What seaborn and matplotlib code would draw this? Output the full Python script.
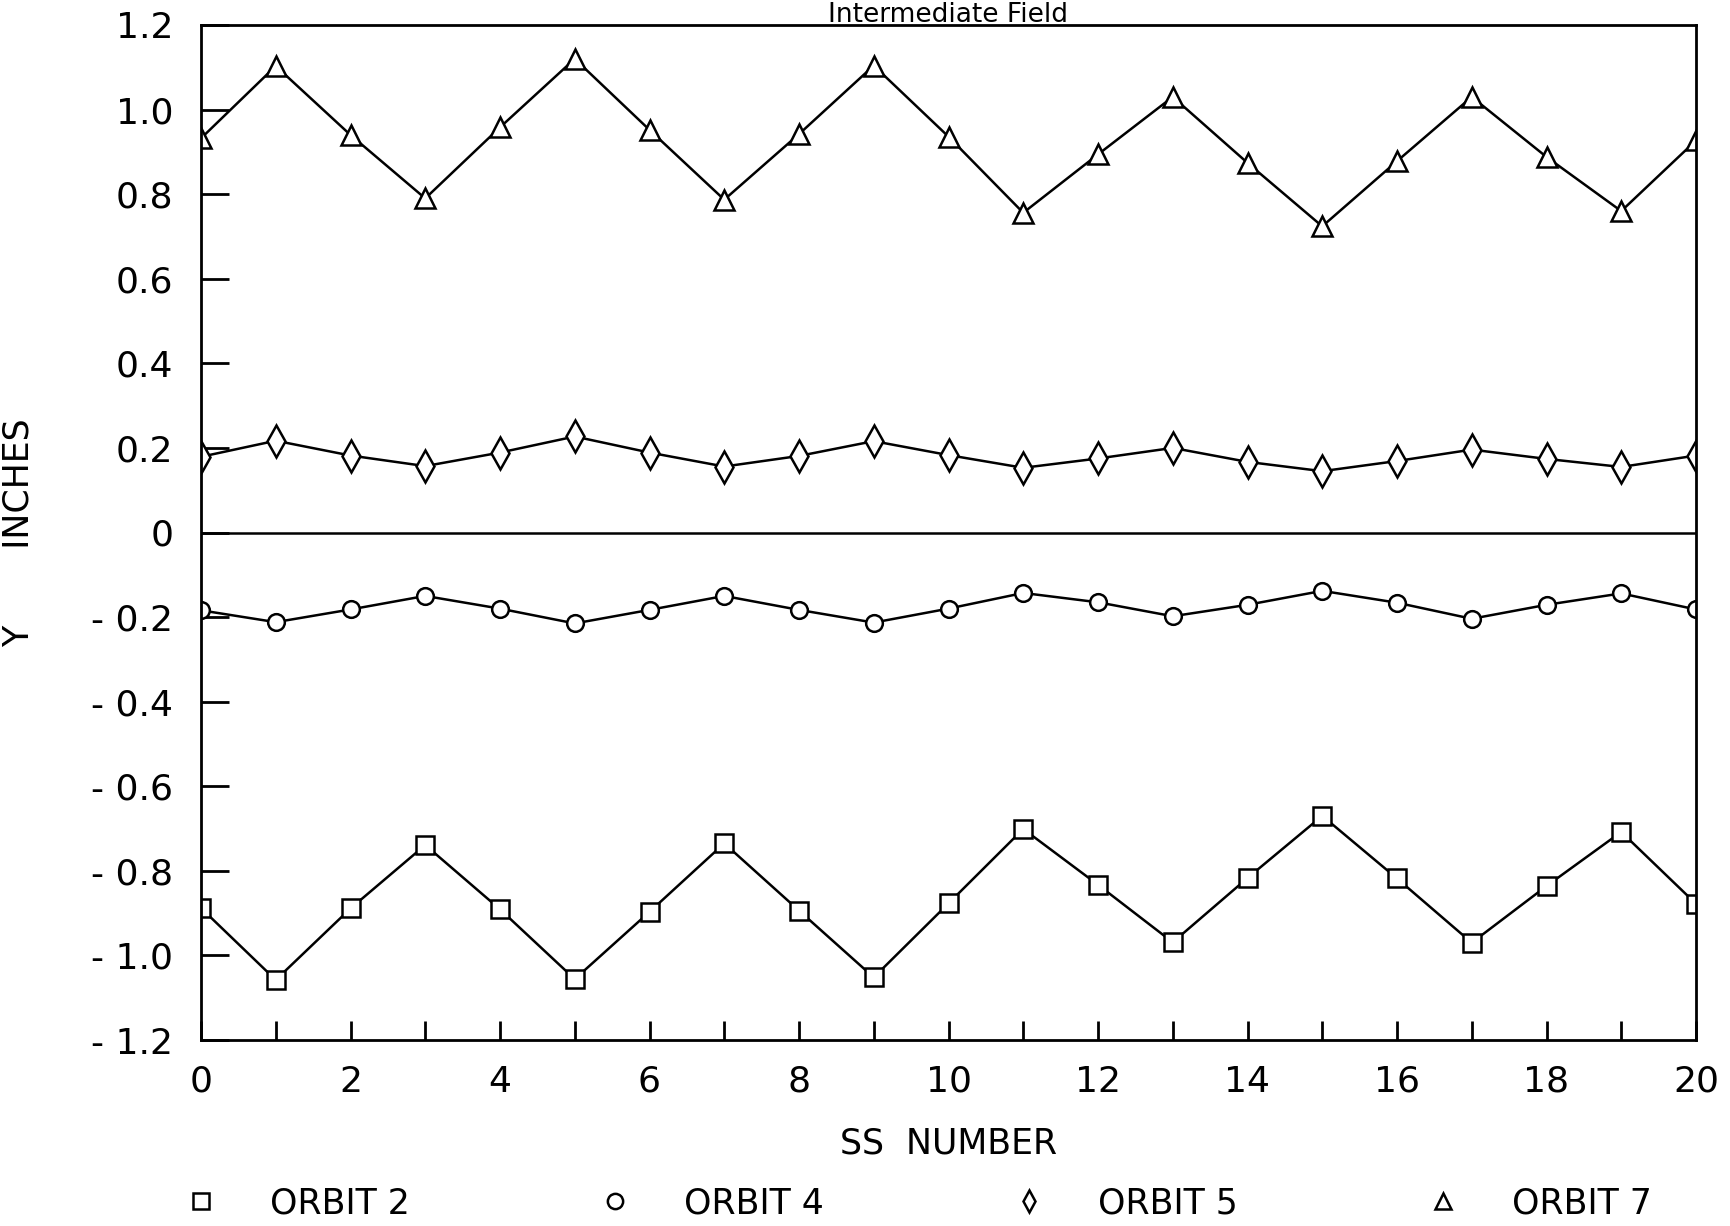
import matplotlib
matplotlib.use("Agg")
import matplotlib.pyplot as plt
import seaborn as sns
import numpy as np
import pandas as pd
from matplotlib.lines import Line2D

ss = list(range(21))
orbit2 = [-0.888, -1.058, -0.889, -0.739, -0.891, -1.056, -0.897, -0.735, -0.894, -1.052, -0.877,
          -0.701, -0.833, -0.969, -0.817, -0.670, -0.818, -0.970, -0.836, -0.708, -0.878]
orbit4 = [-0.184, -0.212, -0.182, -0.150, -0.180, -0.215, -0.183, -0.150, -0.183, -0.213, -0.180,
          -0.143, -0.165, -0.198, -0.171, -0.138, -0.166, -0.204, -0.171, -0.144, -0.182]
orbit5 = [0.179, 0.217, 0.182, 0.157, 0.189, 0.227, 0.189, 0.156, 0.181, 0.216, 0.183,
          0.153, 0.175, 0.200, 0.167, 0.145, 0.169, 0.196, 0.174, 0.155, 0.182]
orbit7 = [0.932, 1.103, 0.940, 0.790, 0.958, 1.120, 0.952, 0.787, 0.942, 1.104, 0.936,
          0.756, 0.894, 1.030, 0.874, 0.724, 0.878, 1.030, 0.888, 0.760, 0.927]
series_names = ["ORBIT 2", "ORBIT 4", "ORBIT 5", "ORBIT 7"]
series_markers = ["s", "o", "d", "^"]

yticks = [1.2, 1.0, 0.8, 0.6, 0.4, 0.2, 0.0, -0.2, -0.4, -0.6, -0.8, -1.0, -1.2]
ytick_labels = ["1.2", "1.0", "0.8", "0.6", "0.4", "0.2", "0",
                "- 0.2", "- 0.4", "- 0.6", "- 0.8", "- 1.0", "- 1.2"]
xticks_major = list(range(0, 21, 2))
xtick_labels = [str(v) for v in xticks_major]
xticks_minor = list(range(1, 21, 2))

title = "Intermediate Field"
xlabel = "SS  NUMBER"
ylabel = "Y       INCHES"

sns.set_theme(style="white")
plt.rcParams['font.family'] = ['DejaVu Sans']
plt.rcParams['text.color'] = 'black'

fig = plt.figure(figsize=(17.3, 12.26), dpi=100)
ax = fig.add_axes([201 / 1730, 1 - 1040 / 1226, (1696 - 201) / 1730, (1040 - 25) / 1226])

series_vals = [orbit2, orbit4, orbit5, orbit7]
msizes = [13, 12, 16, 14]
for name, vals, mk, ms in zip(series_names, series_vals, series_markers, msizes):
    sns.lineplot(x=ss, y=vals, ax=ax, color="black", linewidth=1.8, marker=mk,
                 markersize=ms, markerfacecolor="white", markeredgecolor="black",
                 markeredgewidth=1.8, legend=False)

ax.axhline(0, color="black", linewidth=1.8, zorder=1)

ax.set_xlim(0, 20)
ax.set_ylim(-1.2, 1.2)
ax.set_xticks(xticks_major)
ax.set_xticklabels(xtick_labels)
ax.set_xticks(xticks_minor, minor=True)
ax.set_yticks(yticks)
ax.set_yticklabels(ytick_labels)

for sp in ax.spines.values():
    sp.set_visible(True)
    sp.set_color("black")
    sp.set_linewidth(2.0)

ax.tick_params(axis="x", which="both", direction="in", length=14, width=2, colors="black",
               labelsize=26, pad=18, bottom=True, top=False)
ax.tick_params(axis="y", which="both", direction="in", length=20, width=2, colors="black",
               labelsize=26, pad=20, left=True, right=False)

ax.set_xlabel(xlabel, fontsize=25, labelpad=20, color="black")
ax.set_ylabel(ylabel, fontsize=25, labelpad=40, color="black")

fig.text(0.548, 1 - 22 / 1226, title, ha="center", va="baseline", fontsize=19, color="black")

handles = [Line2D([], [], linestyle="none", marker=mk, markersize=11, markerfacecolor="white",
                  markeredgecolor="black", markeredgewidth=1.8) for mk in series_markers]
fig.legend(handles, series_names, loc="center", ncol=4, frameon=False, fontsize=25,
           bbox_to_anchor=(0.098, 1 - 1222 / 1226, 0.865, 0.03), mode="expand",
           handletextpad=1.5, borderaxespad=0, handlelength=1.0, labelcolor="black")

fig.savefig("out.png", dpi=100, facecolor="white")
